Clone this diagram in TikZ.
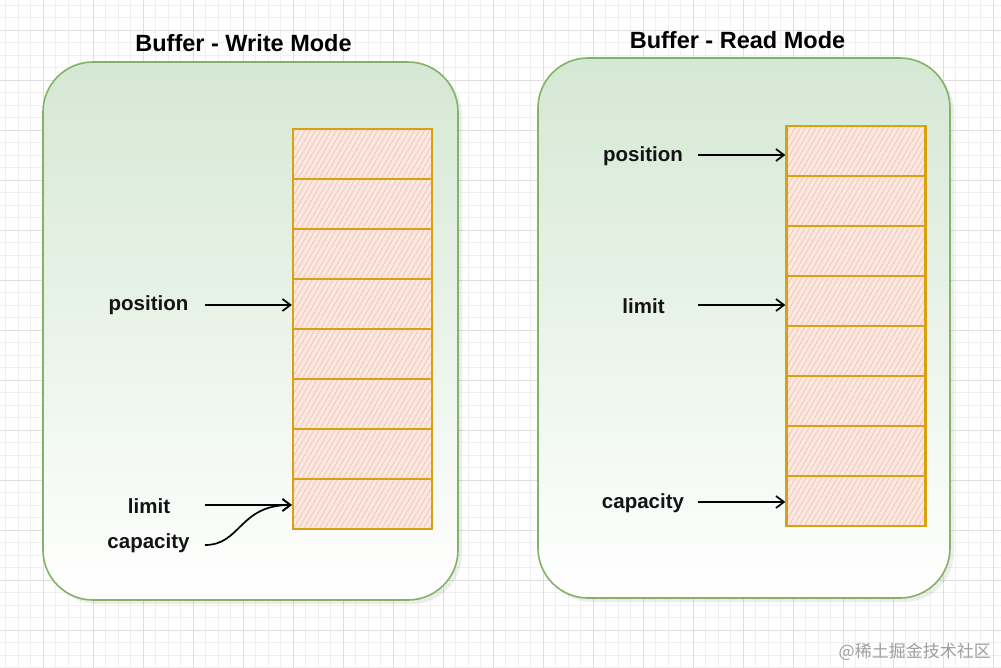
\documentclass[tikz,border=0pt]{standalone}
\usepackage{fontspec}
\setmainfont{Liberation Sans}
\newfontfamily\cjkfont{Noto Sans CJK SC}
\usetikzlibrary{arrows.meta,patterns.meta}
\definecolor{gridminor}{HTML}{F0F0F0}
\definecolor{gridmajor}{HTML}{DEDEDE}
\definecolor{panelgreen}{HTML}{D5E8D4}
\definecolor{panelborder}{HTML}{82B366}
\definecolor{cellborder}{HTML}{D9A010}
\definecolor{cellfill}{HTML}{FBE8E1}
\definecolor{hatch}{HTML}{F3C4B6}
\begin{document}
\begin{tikzpicture}[x=1pt,y=-1pt,
  panel/.style={draw=panelborder,line width=1.6pt,rounded corners=50pt,top color=panelgreen,bottom color=white},
  panelshadow/.style={fill=black,opacity=0.07,rounded corners=50pt},
  cell/.style={draw=cellborder,line width=2.3pt,minimum width=139pt,minimum height=50pt,inner sep=0pt,
    preaction={fill=cellfill},pattern={Lines[angle=60,distance=4.5pt,line width=0.8pt]},pattern color=hatch},
  lbl/.style={font=\fontsize{20.5}{24}\selectfont\bfseries,text=black!92,inner sep=0pt},
  ttl/.style={font=\fontsize{23.5}{28}\selectfont\bfseries,text=black,inner sep=0pt},
  arr/.style={line width=1.7pt,-{Straight Barb[length=8pt,width=12pt,line width=1.7pt]}},
  minorline/.style={draw=gridminor,line width=0.8pt},
  majorline/.style={draw=gridmajor,line width=0.8pt}
]
\useasboundingbox (0,0) rectangle (1001,668);
\fill[white] (0,0) rectangle (1001,668);
% grid
\foreach \i in {0,...,81} { \draw[minorline] ({-7+12.5*\i},0) -- ++(0,668); }
\foreach \i in {0,...,54} { \draw[minorline] (0,{5+12.5*\i}) -- ++(1001,0); }
\foreach \i in {0,...,20} { \draw[majorline] ({-7+50*\i},0) -- ++(0,668); }
\foreach \i in {0,...,13} { \draw[majorline] (0,{-20+50*\i}) -- ++(1001,0); }

% panels
\fill[panelshadow] (47,66) rectangle (462,604);
\draw[panel] (43,62) rectangle (458,600);
\fill[panelshadow] (542,62) rectangle (954,602);
\draw[panel] (538,58) rectangle (950,598);

% titles
\node[ttl] (tL) at (243.5,43) {Buffer - Write Mode};
\node[ttl] (tR) at (737.5,40) {Buffer - Read Mode};

% cells
\foreach \i in {1,...,8} {
  \node[cell] (L\i) at (362.5,{154+50*(\i-1)}) {};
  \node[cell] (R\i) at (856,{151+50*(\i-1)}) {};
}

% left labels
\node[lbl] (posL) at (148.5,305) {position};
\node[lbl] (limL) at (149,506) {limit};
\node[lbl] (capL) at (148.5,543) {capacity};
\coordinate (posLs) at (205,305);
\coordinate (limLs) at (205,505);
\coordinate (capLs) at (205,545);
\draw[arr] (posLs) -- (posLs -| L4.west);
\draw[arr] (limLs) -- (limLs -| L8.west);
\draw[arr] (capLs) .. controls (241,545) and (239,505) .. (limLs -| L8.west);

% right labels
\node[lbl] (posR) at (643,156) {position};
\node[lbl] (limR) at (643.5,306) {limit};
\node[lbl] (capR) at (643,503) {capacity};
\coordinate (posRs) at (698,155);
\coordinate (limRs) at (698,305);
\coordinate (capRs) at (698,502);
\draw[arr] (posRs) -- (posRs -| R1.west);
\draw[arr] (limRs) -- (limRs -| R4.west);
\draw[arr] (capRs) -- (capRs -| R8.west);

% watermark
\node[font=\cjkfont\fontsize{17}{20}\selectfont,text=black!38,anchor=east,inner sep=0pt] (wm) at (991,652) {@稀土掘金技术社区};
\end{tikzpicture}
\end{document}
